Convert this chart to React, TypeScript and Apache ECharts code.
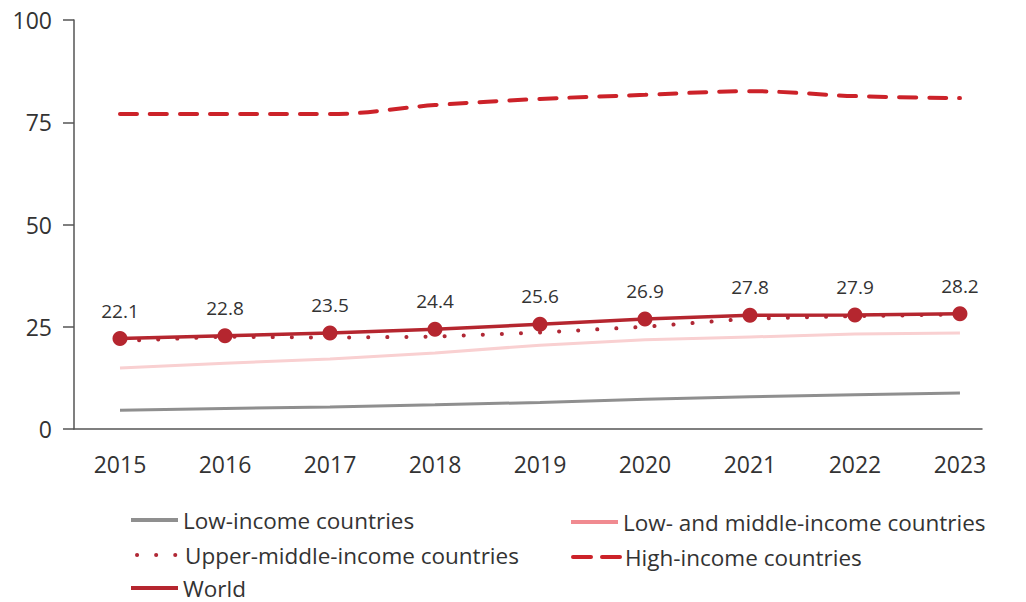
import React, { useEffect, useRef } from "react";
import * as echarts from "echarts";

const years = [2015, 2016, 2017, 2018, 2019, 2020, 2021, 2022, 2023];
const yTicks = [0, 25, 50, 75, 100];
const world = [22.1, 22.8, 23.5, 24.4, 25.6, 26.9, 27.8, 27.9, 28.2];
const upperMiddle = [21.5, 22.6, 22.3, 22.6, 23.6, 25.0, 27.0, 27.6, 28.0];
const lowMiddle = [14.9, 16.1, 17.1, 18.6, 20.5, 21.8, 22.5, 23.2, 23.5];
const lowIncome = [4.6, 5.0, 5.4, 5.9, 6.5, 7.3, 7.9, 8.4, 8.8];
const highIncome = [77.0, 77.0, 77.0, 79.2, 80.7, 81.7, 82.6, 81.4, 80.9];

const names = {
  low: "Low-income countries",
  lowMid: "Low- and middle-income countries",
  upper: "Upper-middle-income countries",
  high: "High-income countries",
  world: "World",
};

const pair = (arr: number[]) => years.map((y, i) => [y, arr[i]]);

const FONT = "'Open Sans', 'Noto Sans', sans-serif";
const TXT = "#333333";

export default function App() {
  const ref = useRef<HTMLDivElement>(null);
  useEffect(() => {
    if (!ref.current) return;
    const chart = echarts.init(ref.current, undefined, { renderer: "svg" });
    const legendBase = {
      orient: "horizontal",
      itemWidth: 47,
      itemHeight: 14,
      textStyle: { fontFamily: FONT, fontSize: 22.5, lineHeight: 24, color: TXT, padding: [0, 0, 0, 0] },
      selectedMode: false,
    };
    chart.setOption({
      animation: false,
      textStyle: { fontFamily: FONT },
      grid: { left: 74, right: 44, top: 20, bottom: 173, containLabel: false },
      xAxis: {
        type: "value",
        min: 2014.562,
        max: 2023.21,
        axisLine: { show: true, lineStyle: { color: "#555", width: 1.5 } },
        axisTick: { show: false },
        splitLine: { show: false },
        axisLabel: {
          customValues: years,
          formatter: (v: number) => String(Math.round(v)),
          fontFamily: FONT,
          fontSize: 23,
          color: TXT,
          margin: 23,
        },
      },
      yAxis: {
        type: "value",
        min: 0,
        max: 100,
        interval: 25,
        axisLine: { show: true, lineStyle: { color: "#555", width: 1.5 } },
        axisTick: { show: true, length: 11, lineStyle: { color: "#555", width: 1.5 } },
        splitLine: { show: false },
        axisLabel: {
          customValues: yTicks,
          fontFamily: FONT,
          fontSize: 23,
          color: TXT,
          margin: 22,
        },
      },
      legend: [
        { ...legendBase, left: 126, top: 503, data: [{ name: names.low, icon: "rect" }], itemHeight: 4 },
        { ...legendBase, left: 566, top: 505, data: [{ name: names.lowMid, icon: "rect", itemStyle: { color: "#f08a90", opacity: 1 } }], itemHeight: 4 },
        { ...legendBase, left: 126, top: 538, data: [{ name: names.upper, itemStyle: { opacity: 0 }, lineStyle: { width: 4, type: [0.1, 19], cap: "round", dashOffset: -4 } }] },
        { ...legendBase, left: 566, top: 540, data: [{ name: names.high, itemStyle: { opacity: 0 }, lineStyle: { width: 4, type: [18, 11], cap: "round" } }] },
        { ...legendBase, left: 126, top: 571, data: [{ name: names.world, icon: "rect" }], itemHeight: 4 },
      ],
      series: [
        {
          name: names.low,
          type: "line",
          data: pair(lowIncome),
          symbol: "none",
          color: "#8f8f8f",
          lineStyle: { color: "#8f8f8f", width: 3 },
          z: 2,
        },
        {
          name: names.lowMid,
          type: "line",
          data: pair(lowMiddle),
          symbol: "none",
          color: "#f08a90",
          lineStyle: { color: "#f9d0d1", width: 3 },
          z: 2,
        },
        {
          name: names.upper,
          type: "line",
          data: pair(upperMiddle),
          symbol: "none",
          color: "#b02835",
          lineStyle: { color: "#b02835", width: 4, type: [0.1, 19], cap: "round" },
          z: 3,
        },
        {
          name: names.high,
          type: "line",
          data: pair(highIncome),
          symbol: "none",
          smooth: 0.35,
          color: "#cc2229",
          lineStyle: { color: "#cc2229", width: 4, type: [17, 13], cap: "round" },
          z: 3,
        },
        {
          name: names.world,
          type: "line",
          data: pair(world),
          symbol: "circle",
          symbolSize: 15,
          color: "#b5262f",
          itemStyle: { color: "#b5262f" },
          lineStyle: { color: "#b5262f", width: 3.5 },
          label: {
            show: true,
            position: "top",
            distance: 11,
            formatter: (p: any) => p.value[1].toFixed(1),
            fontFamily: FONT,
            fontSize: 19,
            color: TXT,
          },
          z: 5,
        },
      ],
    });
    return () => chart.dispose();
  }, []);
  return <div ref={ref} style={{ width: 1026, height: 602, position: "absolute", left: 0, top: 0 }} />;
}
